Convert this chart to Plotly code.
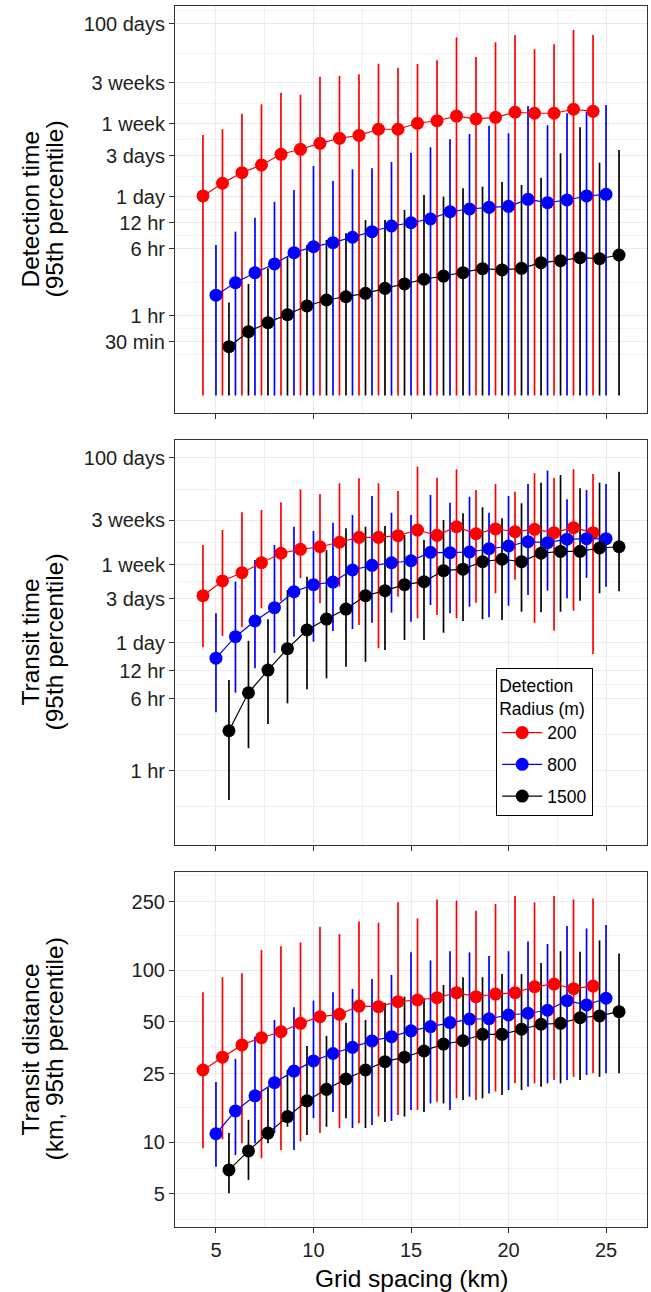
import plotly.graph_objects as go
import numpy as np

# ---------------- data ----------------
grid_spacing = [5, 6, 7, 8, 9, 10, 11, 12, 13, 14, 15, 16, 17, 18, 19, 20, 21, 22, 23, 24, 25]
radius_labels = ["200", "800", "1500"]

# Detection time (hours, 95th percentile)
det_red = [24.5, 34.4, 45.6, 56, 74.4, 85, 99.7, 114, 123, 145, 145, 170, 182, 206, 191, 199, 228, 222, 222, 247, 234]
det_red_hi = [124, 145, 219, 282, 384, 364, 589, 600, 627, 832, 748, 826, 911, 1682, 995, 1472, 1786, 1222, 1396, 2043, 1786]
det_red_lo = [0.12, 0.12, 0.12, 0.12, 0.12, 0.12, 0.12, 0.12, 0.12, 0.12, 0.12, 0.12, 0.12, 0.12, 0.12, 0.12, 0.12, 0.12, 0.12, 0.12, 0.12]
det_blue = [1.74, 2.43, 3.17, 4.0, 5.4, 6.34, 7.05, 8.15, 9.46, 11.0, 12.0, 13.3, 16.1, 17.3, 18.1, 18.6, 22.4, 20.5, 22.0, 24.5, 25.6]
det_blue_hi = [6.63, 9.46, 13.7, 21.0, 28.7, 54.5, 36.5, 49.9, 51.2, 60.5, 77.7, 89.7, 111, 128, 159.5, 130, 270, 161, 222, 230, 277]
det_blue_lo = [0.12, 0.12, 0.12, 0.12, 0.12, 0.12, 0.12, 0.12, 0.12, 0.12, 0.12, 0.12, 0.12, 0.12, 0.12, 0.12, 0.12, 0.12, 0.12, 0.12, 0.12]
det_black = [0.441, 0.658, 0.837, 1.035, 1.306, 1.53, 1.67, 1.83, 2.09, 2.35, 2.66, 2.90, 3.17, 3.53, 3.41, 3.56, 4.14, 4.37, 4.73, 4.60, 5.08]
det_black_hi = [1.43, 2.35, 3.56, 4.8, 6.63, 7.58, 9.06, 12.9, 12.9, 16.9, 25.1, 24.0, 30.1, 31.4, 35.6, 32.8, 39.9, 76.4, 153, 59.5, 83.4]
det_black_lo = [0.12, 0.12, 0.12, 0.12, 0.12, 0.12, 0.12, 0.12, 0.12, 0.12, 0.12, 0.12, 0.12, 0.12, 0.12, 0.12, 0.12, 0.12, 0.12, 0.12, 0.12]

# Transit time (hours, 95th percentile)
tr_red = [77.6, 112, 137.5, 176, 223, 246, 262, 293, 331, 331, 345, 397, 348, 431, 362, 408, 381, 404, 372, 421, 372]
tr_red_hi = [274, 398, 617, 654, 791, 1093, 973, 1270, 1438, 1270, 1048, 1919, 1459, 1798, 1074, 1248, 1031, 1629, 1459, 1798, 1600]
tr_red_lo = [21.5, 28.5, 35.4, 56.8, 68.5, 120, 64.2, 97, 37.4, 21, 75.7, 44.2, 48, 44.2, 65.2, 82.4, 115, 39.6, 32.5, 53.4, 18.2]
tr_blue = [16.4, 28, 41.4, 57.6, 85.7, 102, 109, 147, 165, 176, 185, 228, 226, 230, 250, 267, 297, 290, 316, 320, 320]
tr_blue_hi = [50.1, 110, 188, 274, 431, 388, 477, 577, 926, 611, 577, 949, 784, 910, 611, 926, 1248, 1738, 853, 1074, 1248]
tr_blue_lo = [4.27, 6.95, 12.8, 18.7, 28, 24.7, 32.3, 33.9, 39.6, 50.9, 40.6, 61.5, 50.1, 59, 45.4, 60.5, 78.9, 87.9, 72.8, 121, 97]
tr_black = [2.70, 6.95, 12.2, 20.8, 33.1, 43.4, 55.7, 77.6, 87.9, 102, 110, 144.5, 150, 181, 192, 181, 223, 233, 234, 254, 262]
tr_black_hi = [9.53, 25.3, 43.2, 89.4, 124, 242, 415, 431, 439, 351, 310, 510, 602, 699, 532, 773, 1289, 1560, 1122, 1289, 1694]
tr_black_lo = [0.483, 1.75, 3.19, 5.34, 7.57, 9.95, 13.3, 15.0, 20.1, 25.8, 25.8, 30.9, 41.4, 43.2, 42.4, 52.1, 51.4, 52.1, 68.5, 82.4, 86.5]

# Transit distance (km, 95th percentile)
dist_red = [26.3, 31.2, 36.8, 40.5, 43.9, 49.1, 53.7, 55.4, 61.9, 61.4, 65.6, 67.1, 69.2, 74, 70.2, 72.7, 74, 80.2, 83.1, 78.1, 80.9]
dist_red_hi = [74.5, 91, 96, 131, 138, 145, 179, 162, 192, 189, 248, 200, 258, 254, 222, 243, 270, 248, 270, 258, 261]
dist_red_lo = [9.22, 10.4, 9.86, 8.07, 9.02, 10.1, 11.3, 12.1, 12.9, 14.1, 14.4, 15.4, 17.2, 18, 17.6, 19.7, 22, 22, 23, 24, 25.2]
dist_blue = [11.2, 15.2, 18.6, 22.2, 25.9, 29.7, 32.8, 35.6, 38.8, 41.1, 44.4, 47, 49.6, 52, 52.2, 54.9, 56.2, 58.5, 66.5, 62.8, 68.7]
dist_blue_hi = [22.4, 30.5, 41.1, 51.4, 60.9, 66.6, 74.5, 77.9, 89, 93.9, 127, 114, 129, 127, 121, 129, 147, 142, 181, 175, 183]
dist_blue_lo = [7.21, 8.43, 9.86, 11.3, 9.02, 13.8, 15, 12.1, 12.6, 13.3, 15.4, 16.8, 15.4, 18.4, 19.2, 20.1, 21, 22, 23, 24.6, 25.2]
dist_black = [6.9, 8.9, 11.3, 14.1, 17.4, 20.3, 23.3, 26.3, 29.4, 31.2, 33.9, 37.2, 38.9, 42.4, 42.4, 45.4, 48.5, 49.1, 52.9, 54.2, 57.4]
dist_black_hi = [11.3, 13.5, 20.8, 26.3, 36.2, 41.5, 49.5, 51.4, 64.7, 70.2, 68.7, 82, 91, 91, 95, 95, 110, 129, 128, 149, 125]
dist_black_lo = [5.05, 6.03, 9.86, 12.3, 11, 12.3, 13.8, 12.1, 13.1, 14.1, 15, 16.8, 17.6, 18, 18.8, 20.1, 21, 22, 23, 24, 25.2]

# tick breaks / labels
time_tickvals_1 = [0.5, 1, 6, 12, 24, 72, 168, 504, 2400]
time_ticktext_1 = ["30 min", "1 hr", "6 hr", "12 hr", "1 day", "3 days", "1 week", "3 weeks", "100 days"]
time_tickvals_2 = [1, 6, 12, 24, 72, 168, 504, 2400]
time_ticktext_2 = ["1 hr", "6 hr", "12 hr", "1 day", "3 days", "1 week", "3 weeks", "100 days"]
dist_tickvals = [5, 10, 25, 50, 100, 250]
dist_ticktext = ["5", "10", "25", "50", "100", "250"]
x_tickvals = [5, 10, 15, 20, 25]

# ---------------- style ----------------
COLORS = ["#FF0000", "#0000FF", "#000000"]
DODGE = [-2 / 3, 0.0, 2 / 3]
FONT = "Liberation Sans, Arial, Helvetica, sans-serif"
W, H = 651, 1292
ML, MR, MT, MB = 175, 4, 6, 65
PH = H - MT - MB
PW = W - ML - MR


def pix2dom(top_px, bot_px):
    base = H - MB
    return [(base - bot_px) / PH, (base - top_px) / PH]


domains = [pix2dom(6, 413), pix2dom(440, 845), pix2dom(872, 1227)]
yranges = [[-1.123, 3.588], [-0.802, 3.571], [0.507, 2.571]]
xrange_ = [2.9, 27.1]


def gg_minor(major_vals, lim):
    b = list(np.log10(major_vals))
    bd = b[1] - b[0]
    if lim[0] < b[0]:
        b = [b[0] - bd] + b
    if lim[1] > b[-1]:
        b = b + [b[-1] + bd]
    out = []
    for a, c in zip(b[:-1], b[1:]):
        out.append((a + c) / 2)
    return [10 ** v for v in out if lim[0] <= v <= lim[1]]


panels = [
    dict(series=[(det_red, det_red_lo, det_red_hi), (det_blue, det_blue_lo, det_blue_hi),
                 (det_black, det_black_lo, det_black_hi)],
         tv=time_tickvals_1, tt=time_ticktext_1,
         title=["Detection time", "(95th percentile)"]),
    dict(series=[(tr_red, tr_red_lo, tr_red_hi), (tr_blue, tr_blue_lo, tr_blue_hi),
                 (tr_black, tr_black_lo, tr_black_hi)],
         tv=time_tickvals_2, tt=time_ticktext_2,
         title=["Transit time", "(95th percentile)"]),
    dict(series=[(dist_red, dist_red_lo, dist_red_hi), (dist_blue, dist_blue_lo, dist_blue_hi),
                 (dist_black, dist_black_lo, dist_black_hi)],
         tv=dist_tickvals, tt=dist_ticktext,
         title=["Transit distance", "(km, 95th percentile)"]),
]

fig = go.Figure()
for p, panel in enumerate(panels):
    xa = "x" if p == 0 else f"x{p + 1}"
    ya = "y" if p == 0 else f"y{p + 1}"
    # error bars first (like ggplot pointrange segments)
    for s, (yv, lo, hi) in enumerate(panel["series"]):
        xs = [g + DODGE[s] for g in grid_spacing]
        fig.add_trace(go.Scatter(
            x=xs, y=yv, mode="markers", xaxis=xa, yaxis=ya,
            marker=dict(size=1, color=COLORS[s], opacity=0),
            error_y=dict(type="data", symmetric=False,
                         array=[h - v for h, v in zip(hi, yv)],
                         arrayminus=[v - l for v, l in zip(yv, lo)],
                         color=COLORS[s], thickness=1.7, width=0),
            showlegend=False, hoverinfo="skip"))
    for s, (yv, lo, hi) in enumerate(panel["series"]):
        xs = [g + DODGE[s] for g in grid_spacing]
        fig.add_trace(go.Scatter(
            x=xs, y=yv, mode="lines+markers", xaxis=xa, yaxis=ya,
            line=dict(color=COLORS[s], width=1.2),
            marker=dict(size=13, color=COLORS[s]),
            name=radius_labels[s], legendgroup=radius_labels[s],
            showlegend=(p == 0)))

axis_common = dict(showline=True, mirror=True, linecolor="#333333", linewidth=1.1,
                   ticks="outside", ticklen=5, tickwidth=1.1, tickcolor="#333333",
                   gridcolor="#EBEBEB", gridwidth=1.1, zeroline=False,
                   tickfont=dict(family=FONT, size=20, color="#222222"))

layout = dict(width=W, height=H, margin=dict(l=ML, r=MR, t=MT, b=MB),
              plot_bgcolor="white", paper_bgcolor="white",
              font=dict(family=FONT, color="#000000"))

annotations = []
for p, panel in enumerate(panels):
    xk = "xaxis" if p == 0 else f"xaxis{p + 1}"
    yk = "yaxis" if p == 0 else f"yaxis{p + 1}"
    yref = "y" if p == 0 else f"y{p + 1}"
    xref = "x" if p == 0 else f"x{p + 1}"
    layout[xk] = dict(axis_common, domain=[0, 1], anchor=yref, range=xrange_,
                      tickmode="array", tickvals=x_tickvals,
                      showticklabels=(p == 2),
                      minor=dict(tickvals=[7.5, 12.5, 17.5, 22.5], showgrid=True,
                                 gridcolor="#F1F1F1", gridwidth=0.7, ticks=""))
    layout[yk] = dict(axis_common, domain=domains[p], anchor=xref, type="log",
                      range=yranges[p], tickmode="array", tickvals=panel["tv"],
                      ticktext=panel["tt"],
                      minor=dict(tickvals=gg_minor(panel["tv"], yranges[p]), showgrid=True,
                                 gridcolor="#F1F1F1", gridwidth=0.7, ticks=""))
    ymid = (domains[p][0] + domains[p][1]) / 2
    for line_px, txt in zip([30, 54], panel["title"]):
        annotations.append(dict(text=txt, xref="paper", yref="paper",
                                x=(line_px - ML) / PW, y=ymid, xanchor="center",
                                yanchor="middle", textangle=-90, showarrow=False,
                                font=dict(family=FONT, size=24.5, color="#000000")))

annotations.append(dict(text="Grid spacing (km)", xref="paper", yref="paper",
                        x=0.5, y=(H - MB - 1278) / PH, xanchor="center", yanchor="middle",
                        showarrow=False, font=dict(family=FONT, size=24.5, color="#000000")))
layout["annotations"] = annotations

layout["legend"] = dict(x=(496 - ML) / PW, y=(H - MB - 668) / PH, xanchor="left", yanchor="top",
                        bgcolor="white", bordercolor="#000000", borderwidth=1.2,
                        font=dict(family=FONT, size=17.5, color="#000000"),
                        title=dict(text="Detection<br>Radius (m)",
                                   font=dict(family=FONT, size=17.5, color="#000000")),
                        tracegroupgap=6, itemwidth=40, traceorder="grouped")

fig.update_layout(**layout)
fig.write_html("out.html", config={"displayModeBar": False},
               post_script="document.body.style.margin='0';")
